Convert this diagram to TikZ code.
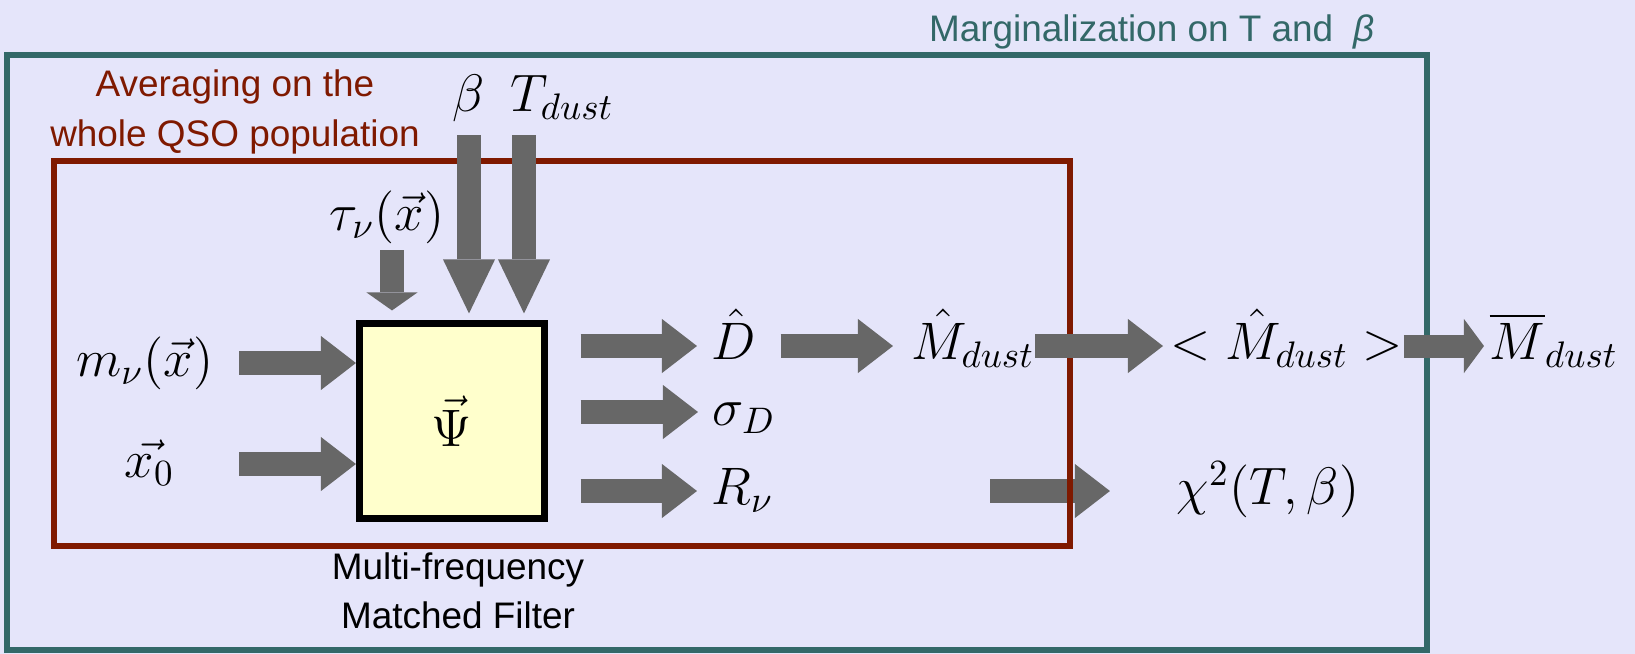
\RequirePackage{fix-cm}
\documentclass[tikz,border=0pt]{standalone}
\usepackage{amssymb,amsmath}
\usepackage{fontspec}
\usepackage{tikz}
\usetikzlibrary{arrows.meta}
\newfontfamily\labelfont{Liberation Sans}
\definecolor{bgcol}{HTML}{E5E5FA}
\definecolor{margcol}{HTML}{336868}
\definecolor{avgcol}{HTML}{7F1900}
\definecolor{arrcol}{HTML}{676767}
\definecolor{filtcol}{HTML}{FFFFCC}

\begin{document}
\begin{tikzpicture}[x=0.01cm, y=-0.01cm,
    lbl/.style={inner sep=0pt, font=\fontsize{15}{18}\selectfont, text height=11.25pt, text depth=3.75pt},
    txt/.style={font=\labelfont\fontsize{10.5}{14}\selectfont, align=center},
    filterbox/.style={draw=black, fill=filtcol, line width=0.07cm, minimum width=1.85cm, minimum height=1.95cm, inner sep=0pt, font=\fontsize{15}{18}\selectfont},
    blk/.style={arrcol, line width=0.24cm, -{Triangle[length=0.35cm, width=0.54cm, line width=0pt]}},
    shortblk/.style={arrcol, line width=0.23cm, -{Triangle[length=0.2cm, width=0.54cm, line width=0pt]}},
    bigblk/.style={arrcol, line width=0.24cm, -{Triangle[length=0.54cm, width=0.52cm, line width=0pt]}},
    smallblk/.style={arrcol, line width=0.23cm, -{Triangle[length=0.18cm, width=0.51cm, line width=0pt]}}]
    \useasboundingbox[fill=bgcol] (0,0) rectangle (1635,654);
    % labels
    \node[lbl, anchor=east] (m) at (214,363) {$m_\nu(\vec{x})$};
    \node[lbl, anchor=east] (xo) at (175,464) {$\vec{x_0}$};
    \node[lbl] (tau) at (387,217) {$\tau_\nu(\vec{x})$};
    \node[lbl] (beta) at (469,98) {$\beta$};
    \node[lbl, anchor=west] (tdust) at (510,98) {$T_{dust}$};
    \node[lbl, anchor=west] (dhat) at (711,346) {$\hat{D}$};
    \node[lbl, anchor=west] (sigma) at (712,412) {$\sigma_D$};
    \node[lbl, anchor=west] (rnu) at (711,491) {$R_\nu$};
    \node[lbl, anchor=west] (mhat) at (911,346) {$\hat{M}_{dust}$};
    \node[lbl, anchor=west] (mavg) at (1170,346) {$<\hat{M}_{dust}>$};
    \node[lbl, anchor=west] (mbar) at (1489,346) {$\overline{M}_{dust}$};
    \node[lbl, anchor=west] (chi) at (1176,491) {$\chi^2(T,\beta)$};
    \coordinate (chisrc) at (990,491);
    \draw[blk, shorten >=0.66cm] (chisrc) -- (chi);
    % boxes
    \draw[avgcol, line width=0.06cm] (54,161) rectangle (1070,546);
    \draw[margcol, line width=0.065cm] (7,55) rectangle (1427,650);
    \node[txt, avgcol] (avgtitle) at (235,112) {Averaging on the\\whole QSO population};
    \node[txt, margcol] (margtitle) at (1152,32) {Marginalization on T and\ \ \textit{β}};
    \node[txt, black] (filtname) at (458,591) {Multi-frequency\\Matched Filter};
    \node[filterbox] (filter) at (452,421) {$\vec{\Psi}$};
    % inputs
    \draw[blk, shorten <=0.25cm] (m) -- (m -| filter.west);
    \draw[blk] ([xshift=0.25cm]xo -| m.east) -- (xo -| filter.west);
    \draw[bigblk, shorten >=0.065cm] ([yshift=-0.1cm]beta.south) -- (beta |- filter.north);
    \draw[bigblk, shorten >=0.065cm] ([xshift=0.14cm, yshift=-0.1cm]tdust.south west) -- ([xshift=0.14cm]tdust.south west |- filter.north);
    \draw[smallblk, shorten >=0.095cm] ([xshift=0.05cm, yshift=-0.06cm]tau.south) -- ([xshift=0.05cm]tau.south |- filter.north);
    % outputs
    \foreach \out in {dhat,sigma,rnu} { \draw[blk, shorten >=0.14cm] ([xshift=0.325cm]filter.east |- \out) -- (\out); }
    \draw[blk, shorten <=0.24cm, shorten >=0.18cm] (dhat) -- (mhat);
    \draw[blk, shorten >=0.07cm] (mhat) -- (mavg);
    \draw[shortblk, shorten >=0.05cm] (mavg) -- (mbar);
\end{tikzpicture}
\end{document}
